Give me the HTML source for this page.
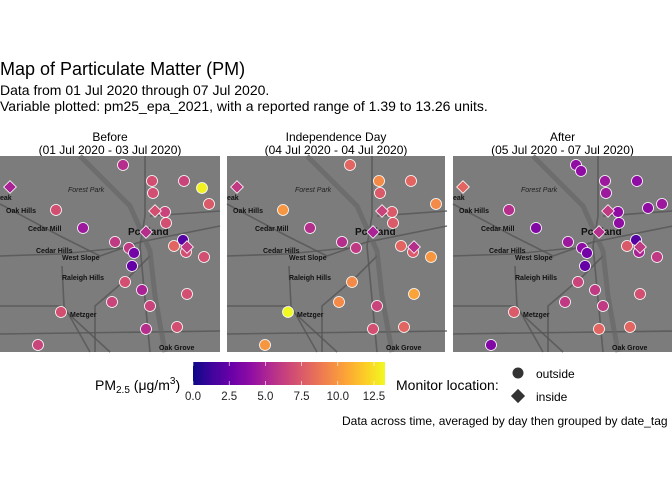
<!DOCTYPE html>
<html><head><meta charset="utf-8"><style>
body{margin:0;background:#fff;font-family:"Liberation Sans",sans-serif;}
svg text{font-family:"Liberation Sans",sans-serif;}
</style></head><body>
<svg id="chart" width="672" height="480" viewBox="0 0 672 480">
<defs>
<linearGradient id="plasma" x1="0" x2="1" y1="0" y2="0">
<stop offset="0" stop-color="#0d0887"/><stop offset="0.14" stop-color="#41049d"/><stop offset="0.28" stop-color="#6a00a8"/><stop offset="0.42" stop-color="#8f0da4"/><stop offset="0.56" stop-color="#b12a90"/><stop offset="0.70" stop-color="#cc4778"/><stop offset="0.84" stop-color="#e16462"/><stop offset="0.98" stop-color="#f2844b"/><stop offset="1.12" stop-color="#fca636"/>
</linearGradient>
<linearGradient id="plasma2" x1="0" x2="1" y1="0" y2="0"></linearGradient>
</defs>
<text x="0" y="75" font-size="18" fill="#000">Map of Particulate Matter (PM)</text>
<text x="0" y="95" font-size="14" fill="#000">Data from 01 Jul 2020 through 07 Jul 2020.</text>
<text x="0" y="111" font-size="14" fill="#000">Variable plotted: pm25_epa_2021, with a reported range of 1.39 to 13.26 units.</text>
<g id="panels"></g>
<g id="legend">
<text x="95" y="390" font-size="14">PM<tspan font-size="10" dy="3">2.5</tspan><tspan dy="-3"> (μg/m</tspan><tspan font-size="10" dy="-6">3</tspan><tspan dy="6">)</tspan></text>
<rect id="cbar" x="193" y="362" width="192" height="23"/>
<g id="cticks"></g>
<text x="396" y="390" font-size="14">Monitor location:</text>
<circle cx="518" cy="373" r="5.5" fill="#333"/>
<text x="536" y="378" font-size="12">outside</text>
<rect x="513" y="391" width="10" height="10" fill="#333" transform="rotate(45 518 396)"/>
<text x="536" y="401" font-size="12">inside</text>
</g>
<text x="342" y="425" font-size="12">Data across time, averaged by day then grouped by date_tag</text>
</svg>
<script>
const panelTitles=["Before","Independence Day","After"];
const panelDates=["(01 Jul 2020 - 03 Jul 2020)","(04 Jul 2020 - 04 Jul 2020)","(05 Jul 2020 - 07 Jul 2020)"];
// monitor locations (longitude/latitude-like map units, 0..220 x, 0..196 y)
const siteX=[123,152,184,202,153,209,56,83,165,166,115,129,134,183,174,186,204,132,125,142,187,112,150,61,146,177,38,128,195];
const siteY=[9,25,25,32,37,48,54,72,56,67,86,92,97,84,90,96,101,110,126,134,138,146,150,156,173,171,189,15,52];
const siteType=["o","o","o","o","o","o","o","o","o","o","o","o","o","o","o","o","o","o","o","o","o","o","o","o","o","o","o","o","o"];
const diaX=[10,155,146,187];
const diaY=[31,55,76,91];
const before=[5.5,7,6.5,13,7,7.5,7,4.5,6.5,7,6,6,3,2,8,7,7,2.5,7,5,7,6.5,6.5,7,5.5,7,6.5,null,null];
const indep=[8,9.5,8,null,7.5,9.5,10,5.5,7.5,7.5,5.5,6,null,null,8,7.5,10,null,9.5,null,10.5,9.5,6.5,13.3,7,8,10,null,null];
const after=[4,4.5,4,null,4.5,4.5,5.5,3.5,4,4,4.5,4,3,2,7.5,5,6,2.5,6.5,6,7,6,6,7.5,8,8,3.5,4,4];
const diaBefore=[5,7,5.5,6];
const diaIndep=[6,6.5,5,5.5];
const diaAfter=[8,6,5.5,6];
const cTicks=[0,2.5,5,7.5,10,12.5];
const vMax=13.26;
const stops=["#0d0887","#41049d","#6a00a8","#8f0da4","#b12a90","#cc4778","#e16462","#f2844b","#fca636","#fcce25","#f0f921"];
function hex(h){return [1,3,5].map(i=>parseInt(h.substr(i,2),16));}
function col(v){let t=Math.max(0,Math.min(1,v/vMax))*(stops.length-1);let i=Math.min(Math.floor(t),stops.length-2),f=t-i;const a=hex(stops[i]),b=hex(stops[i+1]);return "rgb("+a.map((c,k)=>Math.round(c+(b[k]-c)*f)).join(",")+")";}
const NS="http://www.w3.org/2000/svg";
function mk(tag,attrs,parent){const e=document.createElementNS(NS,tag);for(const k in attrs)e.setAttribute(k,attrs[k]);parent.appendChild(e);return e;}
// colorbar gradient
const g2=document.getElementById("plasma2");
stops.forEach((s,i)=>mk("stop",{offset:i/(stops.length-1),"stop-color":s},g2));
document.getElementById("cbar").setAttribute("fill","url(#plasma2)");
const ct=document.getElementById("cticks");
const cx=v=>193+v/vMax*192;
cTicks.forEach(v=>{
  mk("line",{x1:cx(v),x2:cx(v),y1:362,y2:366,stroke:"#fff","stroke-width":0.6},ct);
  mk("line",{x1:cx(v),x2:cx(v),y1:381,y2:385,stroke:"#fff","stroke-width":0.6},ct);
  const t=mk("text",{x:cx(v),y:400,"font-size":11.5,"text-anchor":"middle",fill:"#222"},ct);
  
  
  t.textContent=v.toFixed(1);
});
const panelX=[0,227,453];
const panelW=[220,218,219];
const vals=[before,indep,after];
const dvals=[diaBefore,diaIndep,diaAfter];
const labels=[["Oak Hills",6,57],["Cedar Mill",28,75],["Cedar Hills",36,97],["West Slope",62,104],["Raleigh Hills",62,124],["Metzger",70,161],["Oak Grove",159,194],["eak",0,44]];
const P=document.getElementById("panels");
panelX.forEach((px,p)=>{
  const g=mk("g",{transform:"translate("+px+",0)"},P);
  
  
  const tt=mk("text",{x:panelW[p]/2,y:141,"font-size":12,"text-anchor":"middle"},g);
  
  
  tt.textContent=panelTitles[p];
  const td=mk("text",{x:panelW[p]/2,y:154,"font-size":12,"text-anchor":"middle"},g);
  
  
  td.textContent=panelDates[p];
  const m=mk("g",{transform:"translate(0,156)"},g);
  const bg=mk("rect",{x:0,y:0,width:panelW[p],height:196,fill:"#7c7c7c"},m);
  
  
  // roads and river
  const roads=["M0,48 L60,80 L100,100 L140,86 L220,70","M145,0 L145,60 L140,90 L150,196","M0,100 L60,98 L120,92","M62,110 L64,150 L90,196","M95,196 L95,150 L130,120 L150,100","M150,60 L220,55","M0,150 L60,150 L110,196","M0,178 L220,175"];
  roads.forEach(d=>{const r=mk("path",{d:d,stroke:"#555",fill:"none","stroke-width":1.6,opacity:0.8},m);});
  const rv=mk("path",{d:"M80,0 L130,50 L150,95 L155,140 L165,196",stroke:"#666",fill:"none","stroke-width":5,opacity:0.7},m);
  
  
  const fp=mk("text",{x:68,y:36,"font-size":7,"font-style":"italic",fill:"#222"},m);
  
  
  fp.textContent="Forest Park";
  labels.forEach(l=>{const t=mk("text",{x:l[1],y:l[2],"font-size":7,"font-weight":"bold",fill:"#111"},m);t.textContent=l[0];});
  const pt=mk("text",{x:128,y:79,"font-size":10,"font-weight":"bold",fill:"#111"},m);
  
  
  pt.textContent="Portland";
  const v=vals[p];
  siteX.forEach((x,i)=>{
    if(v[i]==null)return;
    const c=mk("circle",{cx:x,cy:siteY[i],r:5.5,fill:col(v[i]),stroke:"#fff","stroke-width":0.8},m);
    
    
  });
  diaX.forEach((x,i)=>{
    const d=mk("rect",{x:x-4.5,y:diaY[i]-4.5,width:9,height:9,fill:col(dvals[p][i]),stroke:"#fff","stroke-width":0.8,transform:"rotate(45 "+x+" "+diaY[i]+")"},m);
    
    
  });
});
</script>
</body></html>
